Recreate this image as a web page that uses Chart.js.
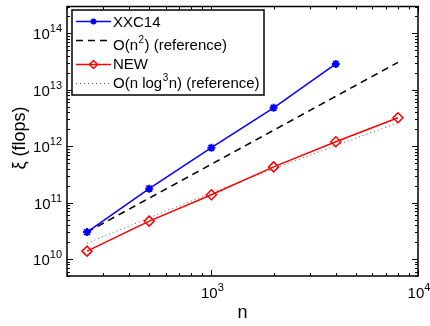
<!DOCTYPE html>
<html><head><meta charset="utf-8">
<script src="https://cdn.jsdelivr.net/npm/chart.js@4.4.1/dist/chart.umd.min.js"></script>
<style>html,body{margin:0;padding:0;background:#fff}#wrap{width:430px;height:326px}</style>
</head><body><div id="wrap"><canvas id="c" width="430" height="326"></canvas></div>
<script>
const nXXC = [250, 500, 1000, 2000, 4000];
const xxc14 = [3.0e10, 1.77e11, 9.4e11, 4.8e12, 2.87e13];
const nRef = [250, 500, 1000, 2000, 4000, 8000];
const refN2 = [3.0e10, 1.2e11, 4.8e11, 1.92e12, 7.68e12, 3.07e13];
const nNew = [250, 500, 1000, 2000, 4000, 8000];
const newVals = [1.38e10, 4.7e10, 1.38e11, 4.3e11, 1.2e12, 3.2e12];
const refNlog3 = [1.9e10, 5.4e10, 1.49e11, 3.97e11, 1.03e12, 2.6e12];
// legend labels as [text, superscript, text] segments
const legendLabels = [
  ['XXC14', '', ''],
  ['O(n', '2', ') (reference)'],
  ['NEW', '', ''],
  ['O(n log', '3', 'n) (reference)']
];
const xTicks = [3, 4];
const yTicks = [10, 11, 12, 13, 14];
const xLabel = 'n';
const yLabel = '\u03BE (flops)';

const FONT = '"Liberation Sans", Arial, Helvetica, sans-serif';
const pts = (xs, ys) => xs.map((x, i) => ({x: x, y: ys[i]}));

const axesPlugin = {
  id: 'axesPlugin',
  afterDraw(chart) {
    const ctx = chart.ctx, a = chart.chartArea;
    const xs = chart.scales.x, ys = chart.scales.y;
    ctx.save();
    ctx.strokeStyle = '#000';
    ctx.lineWidth = 1;
    const tick = (scale, horiz) => {
      for (let k = Math.floor(Math.log10(scale.min)); k <= Math.ceil(Math.log10(scale.max)); k++) {
        for (let m = 1; m <= 9; m++) {
          const v = m * Math.pow(10, k);
          if (v < scale.min * 0.999 || v > scale.max * 1.001) continue;
          const p = Math.round(scale.getPixelForValue(v)) + 0.5;
          const len = m === 1 ? 6 : 3;
          ctx.beginPath();
          if (horiz) {
            ctx.moveTo(p, a.bottom); ctx.lineTo(p, a.bottom - len);
            ctx.moveTo(p, a.top); ctx.lineTo(p, a.top + len);
          } else {
            ctx.moveTo(a.left, p); ctx.lineTo(a.left + len, p);
            ctx.moveTo(a.right, p); ctx.lineTo(a.right - len, p);
          }
          ctx.stroke();
        }
      }
    };
    tick(xs, true); tick(ys, false);
    ctx.lineWidth = 1.5;
    ctx.strokeRect(a.left, a.top, a.right - a.left, a.bottom - a.top);
    ctx.fillStyle = '#000';
    ctx.textBaseline = 'alphabetic';
    const drawPow = (exp, x, y, align) => {
      ctx.font = '15px ' + FONT;
      const wb = ctx.measureText('10').width;
      ctx.font = '11px ' + FONT;
      const we = ctx.measureText(String(exp)).width;
      const sx = align === 'right' ? x - wb - we : x - (wb + we) / 2;
      ctx.textAlign = 'left';
      ctx.font = '15px ' + FONT;
      ctx.fillText('10', sx, y);
      ctx.font = '11px ' + FONT;
      ctx.fillText(String(exp), sx + wb, y - 7);
    };
    xTicks.forEach(e => drawPow(e, xs.getPixelForValue(Math.pow(10, e)) + 1, a.bottom + 22, 'center'));
    yTicks.forEach(e => drawPow(e, a.left - 5, ys.getPixelForValue(Math.pow(10, e)) + 6, 'right'));
    ctx.font = '18px ' + FONT;
    ctx.textAlign = 'center';
    ctx.fillText(xLabel, (a.left + a.right) / 2, 318);
    ctx.save();
    ctx.translate(25, 138);
    ctx.rotate(-Math.PI / 2);
    ctx.fillText(yLabel, 0, 0);
    ctx.restore();
    // legend
    const lx = 72, ly = 10, lw = 192, lh = 85;
    ctx.fillStyle = '#fff';
    ctx.fillRect(lx, ly, lw, lh);
    ctx.lineWidth = 1.5;
    ctx.strokeStyle = '#000';
    ctx.strokeRect(lx, ly, lw, lh);
    const lineY = [21, 40, 64, 83];
    const baseY = [27, 50, 69, 88];
    chart.data.datasets.forEach((ds, i) => {
      const y = lineY[i] + 0.5;
      ctx.save();
      ctx.strokeStyle = ds.borderColor;
      ctx.lineWidth = ds.borderWidth;
      ctx.setLineDash(ds.borderDash || []);
      ctx.beginPath(); ctx.moveTo(76, y); ctx.lineTo(111, y); ctx.stroke();
      ctx.setLineDash([]);
      if (ds.pointRadius > 0) {
        ctx.fillStyle = ds.pointBackgroundColor;
        ctx.strokeStyle = ds.pointBorderColor;
        ctx.lineWidth = ds.pointBorderWidth;
        Chart.helpers.drawPoint(ctx, {pointStyle: ds.pointStyle, radius: ds.pointRadius - 1, rotation: 0, borderWidth: ds.pointBorderWidth}, 93.5, y);
      }
      ctx.restore();
      ctx.fillStyle = '#000';
      ctx.textAlign = 'left';
      const seg = legendLabels[i];
      let x = 113;
      ctx.font = '15px ' + FONT;
      ctx.fillText(seg[0], x, baseY[i]);
      x += ctx.measureText(seg[0]).width;
      if (seg[1]) {
        ctx.font = '10px ' + FONT;
        ctx.fillText(seg[1], x + 0.5, baseY[i] - 7);
        x += ctx.measureText(seg[1]).width + 1;
        ctx.font = '15px ' + FONT;
        ctx.fillText(seg[2], x, baseY[i]);
      }
    });
    ctx.restore();
  }
};

new Chart(document.getElementById('c'), {
  type: 'line',
  data: {
    datasets: [
      {data: pts(nXXC, xxc14), borderColor: '#0000ff', borderWidth: 1.5, pointStyle: 'star', pointRadius: 4, pointBorderWidth: 2, pointBorderColor: '#0000ff', pointBackgroundColor: '#0000ff'},
      {data: pts(nRef, refN2), borderColor: '#000', borderWidth: 1.5, borderDash: [7, 5], pointRadius: 0},
      {data: pts(nNew, newVals), borderColor: '#ff0000', borderWidth: 1.5, pointStyle: 'rectRot', pointRadius: 5, pointBorderWidth: 1.5, pointBorderColor: '#ff0000', pointBackgroundColor: 'rgba(255,255,255,0)'},
      {data: pts(nRef, refNlog3), borderColor: '#555', borderWidth: 1, borderDash: [1, 3], pointRadius: 0}
    ]
  },
  options: {
    responsive: false, animation: false, devicePixelRatio: 1,
    layout: {padding: {left: 67, right: 12, top: 5, bottom: 50}},
    plugins: {legend: {display: false}, tooltip: {enabled: false}},
    scales: {
      x: {type: 'logarithmic', min: 200, max: 10000, grid: {display: false, drawTicks: false}, border: {display: false}, ticks: {display: false}},
      y: {type: 'logarithmic', min: 5e9, max: 3e14, grid: {display: false, drawTicks: false}, border: {display: false}, ticks: {display: false}}
    }
  },
  plugins: [axesPlugin]
});
</script></body></html>
